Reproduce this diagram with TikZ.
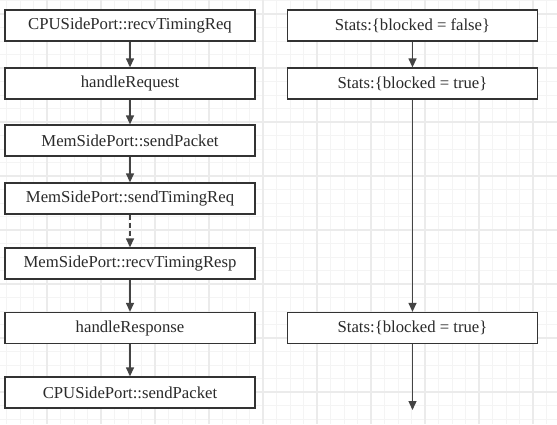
\documentclass[tikz,border=0pt]{standalone}
\usepackage{fontspec}
\setmainfont{Liberation Serif}
\usetikzlibrary{arrows.meta}
\definecolor{gridminor}{HTML}{F4F4F4}
\definecolor{gridmajor}{HTML}{EBEBEB}
\definecolor{boxline}{HTML}{333333}
\definecolor{arrowline}{HTML}{444444}
\definecolor{txt}{HTML}{2A2A2A}
\tikzset{
  stepbox/.style={draw=boxline, line width=1.3pt, fill=white, minimum width=250pt, minimum height=31pt, inner sep=0pt, text=txt, font=\fontsize{16.7}{20}\selectfont},
  flow/.style={draw=arrowline, line width=1.3pt, -{Triangle[length=9pt,width=8pt]}},
  flowdash/.style={flow, dash pattern=on 5pt off 3pt}
}
\begin{document}
\begin{tikzpicture}[x=1pt,y=-1pt]
\useasboundingbox (0,0) rectangle (557,424);
\fill[white] (0,0) rectangle (557,424);
% grid
\foreach \i in {0,...,41} {
  \draw[gridminor, line width=0.8pt] ({6.5+13.5*\i},0) -- ({6.5+13.5*\i},424);
}
\foreach \i in {0,...,31} {
  \draw[gridminor, line width=0.8pt] (0,{0.5+13.5*\i}) -- (557,{0.5+13.5*\i});
}
\foreach \i in {0,...,10} {
  \draw[gridmajor, line width=1.2pt] ({47+54*\i},0) -- ({47+54*\i},424);
}
\foreach \i in {0,...,7} {
  \draw[gridmajor, line width=1.2pt] (0,{14+54*\i}) -- (557,{14+54*\i});
}
% left column
\node[stepbox] (a1) at (130,25.5) {CPUSidePort::recvTimingReq};
\node[stepbox] (a2) at (130,83.5) {handleRequest};
\node[stepbox] (a3) at (130,140.5) {MemSidePort::sendPacket};
\node[stepbox] (a4) at (130,198.5) {MemSidePort::sendTimingReq};
\node[stepbox] (a5) at (130,263.5) {MemSidePort::recvTimingResp};
\node[stepbox] (a6) at (130,328) {handleResponse};
\node[stepbox] (a7) at (130,392.5) {CPUSidePort::sendPacket};
% right column
\node[stepbox] (b1) at (412.5,25.5) {Stats:\{blocked = false\}};
\node[stepbox] (b2) at (412.5,83.5) {Stats:\{blocked = true\}};
\node[stepbox] (b3) at (412.5,328) {Stats:\{blocked = true\}};
\coordinate (bend) at (412.5,410);
% connectors
\draw[flow] (a1) -- (a2);
\draw[flow] (a2) -- (a3);
\draw[flow] (a3) -- (a4);
\draw[flowdash] (a4) -- (a5);
\draw[flow] (a5) -- (a6);
\draw[flow] (a6) -- (a7);
\draw[flow] (b1) -- (b2);
\draw[flow] (b2) -- (b3);
\draw[flow] (b3) -- (bend);
\end{tikzpicture}
\end{document}
